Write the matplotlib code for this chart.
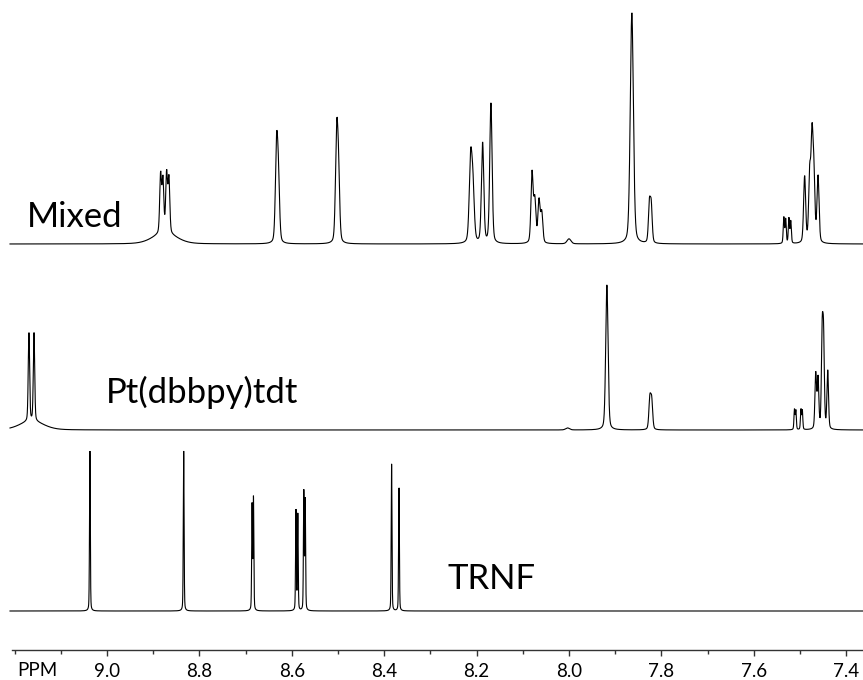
import numpy as np
import matplotlib
matplotlib.use("Agg")
import matplotlib.pyplot as plt
from matplotlib.ticker import MultipleLocator, FormatStrFormatter

# ---------------- data (peak lists) ----------------
# Mixed spectrum: position (ppm), height, full width at half height (ppm)
mixed_ppm = [8.884, 8.879, 8.871, 8.866, 8.875,
             8.633, 8.629, 8.503, 8.499,
             8.213, 8.208, 8.187, 8.169,
             8.080, 8.074, 8.065, 8.059, 8.000,
             7.864, 7.826, 7.822,
             7.535, 7.531, 7.524, 7.520,
             7.490, 7.479, 7.474, 7.470, 7.461]
mixed_height = [58, 52, 58, 54, 11,
                92, 58, 102, 66,
                80, 52, 100, 140,
                70, 42, 42, 30, 5,
                231, 38, 36,
                26, 24, 25, 22,
                66, 66, 98, 62, 66]
mixed_width = [0.0045, 0.0045, 0.0045, 0.0045, 0.06,
               0.006, 0.006, 0.006, 0.006,
               0.007, 0.007, 0.006, 0.006,
               0.0055, 0.0055, 0.0055, 0.0055, 0.01,
               0.008, 0.005, 0.005,
               0.003, 0.003, 0.003, 0.003,
               0.0052, 0.0052, 0.0052, 0.0052, 0.0052]

# Pt(dbbpy)tdt spectrum
pt_ppm = [9.169, 9.158, 9.163,
          7.918, 8.003,
          7.825, 7.821,
          7.512, 7.509, 7.498, 7.495,
          7.466, 7.461, 7.452, 7.449, 7.440]
pt_height = [88, 88, 9,
             145, 2,
             30, 28,
             20, 19, 20, 19,
             55, 50, 90, 85, 58]
pt_width = [0.0035, 0.0035, 0.06,
            0.006, 0.01,
            0.005, 0.005,
            0.0025, 0.0025, 0.0025, 0.0025,
            0.004, 0.004, 0.004, 0.004, 0.004]

# TRNF spectrum
trnf_ppm = [9.037, 8.834, 8.686, 8.683, 8.591, 8.587, 8.574, 8.571, 8.384, 8.368]
trnf_height = [160, 160, 105, 112, 100, 96, 118, 110, 147, 123]
trnf_width = [0.002] * 10

names = ["Mixed", "Pt(dbbpy)tdt", "TRNF"]
tick_values = [9.0, 8.8, 8.6, 8.4, 8.2, 8.0, 7.8, 7.6, 7.4]
axis_label = "PPM"

# ---------------- layout ----------------
W, H = 863, 680
PX_PER_PPM = 462.0
X_LEFT = 9.0 + 107 / PX_PER_PPM
X_RIGHT = X_LEFT - W / PX_PER_PPM
START = X_LEFT - 10 / PX_PER_PPM
baselines = [H - 244, H - 430, H - 611]
ETA = 0.3  # Lorentzian fraction of the line shape

fig = plt.figure(figsize=(W / 100, H / 100), dpi=100)
ax = fig.add_axes([0, 0, 1, 1])
ax.set_xlim(X_LEFT, X_RIGHT)
ax.set_ylim(0, H)
ax.axis("off")

x = np.linspace(START, X_RIGHT, 40000)


def spectrum(ppm, height, fwhm):
    y = np.zeros_like(x)
    for p, h, w in zip(ppm, height, fwhm):
        d = (x - p) / (w / 2)
        g = np.exp(-np.log(2) * d ** 2)
        lor = 1 / (1 + d ** 2)
        y += h * ((1 - ETA) * g + ETA * lor)
    return y


for base, (pp, hh, ww) in zip(baselines, [(mixed_ppm, mixed_height, mixed_width),
                                          (pt_ppm, pt_height, pt_width),
                                          (trnf_ppm, trnf_height, trnf_width)]):
    ax.plot(x, base + spectrum(pp, hh, ww), color="black", lw=0.8, solid_joinstyle="miter")

font = "Lato"
lab_fs = 25
ax.text(X_LEFT - 27 / PX_PER_PPM, H - 227, names[0], fontsize=lab_fs, family=font, va="baseline", ha="left")
ax.text(X_LEFT - 106 / PX_PER_PPM, H - 403, names[1], fontsize=lab_fs, family=font, va="baseline", ha="left")
ax.text(X_LEFT - 447 / PX_PER_PPM, H - 589, names[2], fontsize=lab_fs, family=font, va="baseline", ha="left")

# ppm axis
axL = 12
ax2 = fig.add_axes([axL / W, (H - 650) / H, 1 - axL / W, 0.0001])
ax2.set_xlim(X_LEFT - axL / PX_PER_PPM, X_RIGHT)
for s in ["top", "left", "right"]:
    ax2.spines[s].set_visible(False)
ax2.spines["bottom"].set_linewidth(1.0)
ax2.spines["bottom"].set_color("#333333")
ax2.set_yticks([])
ax2.set_xticks(tick_values)
ax2.xaxis.set_major_formatter(FormatStrFormatter("%.1f"))
ax2.xaxis.set_minor_locator(MultipleLocator(0.1))
ax2.tick_params(axis="x", which="major", length=4.5, width=1.0, color="#333333", pad=5,
                labelsize=13.5)
ax2.tick_params(axis="x", which="minor", length=3, width=1.0, color="#333333")
for t in ax2.get_xticklabels():
    t.set_family(font)
ax2.patch.set_visible(False)
fig.text(17 / W, 1 - 676 / H, axis_label, fontsize=13.5, family=font, va="baseline", ha="left")

fig.savefig("out.png", dpi=100)
